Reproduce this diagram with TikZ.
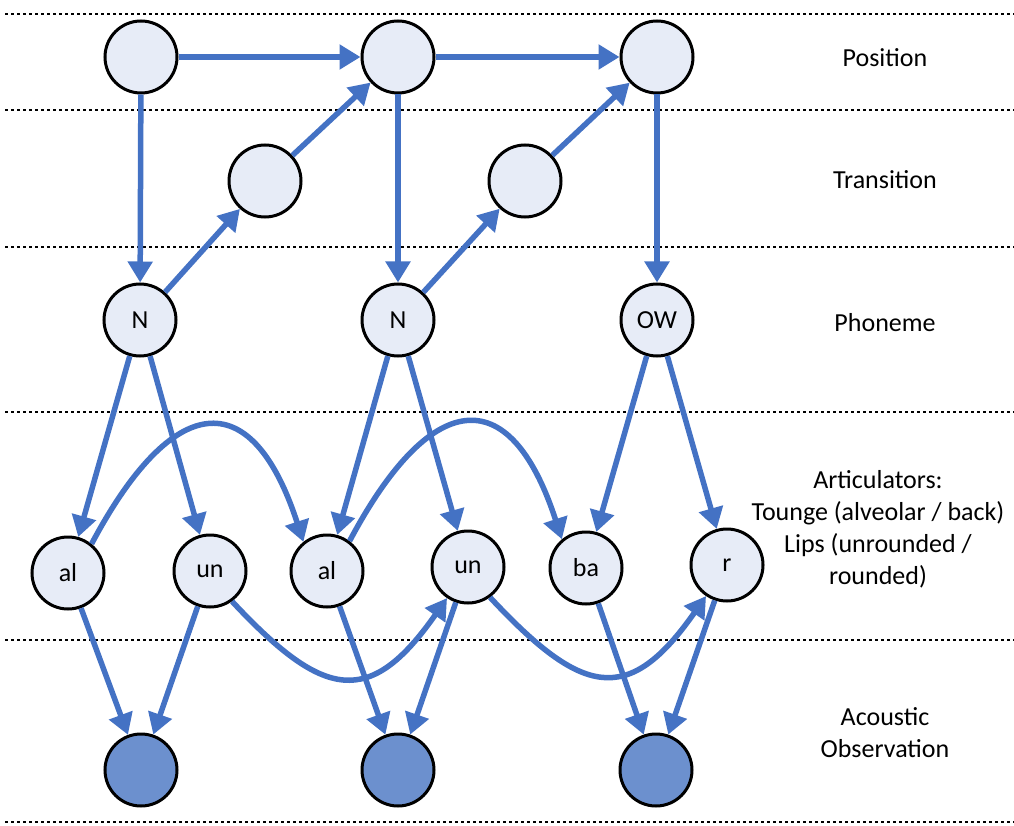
\documentclass[tikz,border=0pt]{standalone}
\usepackage{fontspec}
\setmainfont{Carlito}
\usetikzlibrary{arrows.meta}
\definecolor{arrowblue}{RGB}{68,114,196}
\definecolor{lightfill}{RGB}{231,236,247}
\definecolor{darkfill}{RGB}{108,144,206}
\begin{document}
\begin{tikzpicture}[x=1pt,y=1pt,
  state/.style={circle,draw=black,line width=3pt,fill=lightfill,minimum size=72pt,inner sep=0pt,font=\fontsize{26}{30}\selectfont},
  obs/.style={state,fill=darkfill},
  arr/.style={draw=arrowblue,line width=5.5pt,-{Triangle[length=21pt,width=24pt]}},
  sep/.style={black,line width=1.5pt,dash pattern=on 3pt off 3pt},
  lbl/.style={font=\fontsize{26}{32}\selectfont,align=center}]
\useasboundingbox (0,0) rectangle (1014,-826);

% separators
\foreach \yy in {14,110,247,412,640,822}
  \draw[sep] (5,-\yy) -- (1014,-\yy);

% nodes
\node[state] (P1) at (141,-57) {};
\node[state] (P2) at (398,-57) {};
\node[state] (P3) at (657,-57) {};
\node[state] (T1) at (265,-181) {};
\node[state] (T2) at (525,-181) {};
\node[state] (N1) at (140,-320) {N};
\node[state] (N2) at (398,-320) {N};
\node[state] (OW) at (657,-320) {OW};
\node[state] (al1) at (68,-573) {al};
\node[state] (un1) at (210,-571) {un};
\node[state] (al2) at (327,-571) {al};
\node[state] (un2) at (468,-567) {un};
\node[state] (ba) at (586,-568) {ba};
\node[state] (r) at (727,-565) {r};
\node[obs] (A1) at (141,-770) {};
\node[obs] (A2) at (398,-770) {};
\node[obs] (A3) at (656,-770) {};

% labels
\node[lbl] (lpos) at (885,-58) {Position};
\node[lbl] (ltr) at (885,-180) {Transition};
\node[lbl] (lph) at (885,-323) {Phoneme};
\node[lbl] (lart) at (878,-529) {Articulators:\\Tounge (alveolar / back)\\Lips (unrounded /\\rounded)};
\node[lbl] (lac) at (885,-733) {Acoustic\\Observation};

% position chain
\draw[arr] (P1) -- (P2);
\draw[arr] (P2) -- (P3);
\draw[arr] (P1) -- (N1);
\draw[arr] (P2) -- (N2);
\draw[arr] (P3) -- (OW);
% transitions
\draw[arr] (N1) -- (T1);
\draw[arr] (T1) -- (P2);
\draw[arr] (N2) -- (T2);
\draw[arr] (T2) -- (P3);
% phoneme to articulators
\draw[arr] (N1) -- (al1);
\draw[arr] (N1) -- (un1);
\draw[arr] (N2) -- (al2);
\draw[arr] (N2) -- (un2);
\draw[arr] (OW) -- (ba);
\draw[arr] (OW) -- (r);
% articulator dynamics
\draw[arr] (al1.51) to[out=62,in=108,looseness=2.05] (al2.129);
\draw[arr] (al2.53) to[out=62,in=108,looseness=2.05] (ba.130);
\draw[arr] (un1.-54) to[out=-47,in=-125,looseness=1.6] (un2.-124);
\draw[arr] (un2.-54) to[out=-47,in=-125,looseness=1.6] (r.-124);
% articulators to acoustics
\draw[arr] (al1) -- (A1);
\draw[arr] (un1) -- (A1);
\draw[arr] (al2) -- (A2);
\draw[arr] (un2) -- (A2);
\draw[arr] (ba) -- (A3);
\draw[arr] (r) -- (A3);
\end{tikzpicture}
\end{document}
